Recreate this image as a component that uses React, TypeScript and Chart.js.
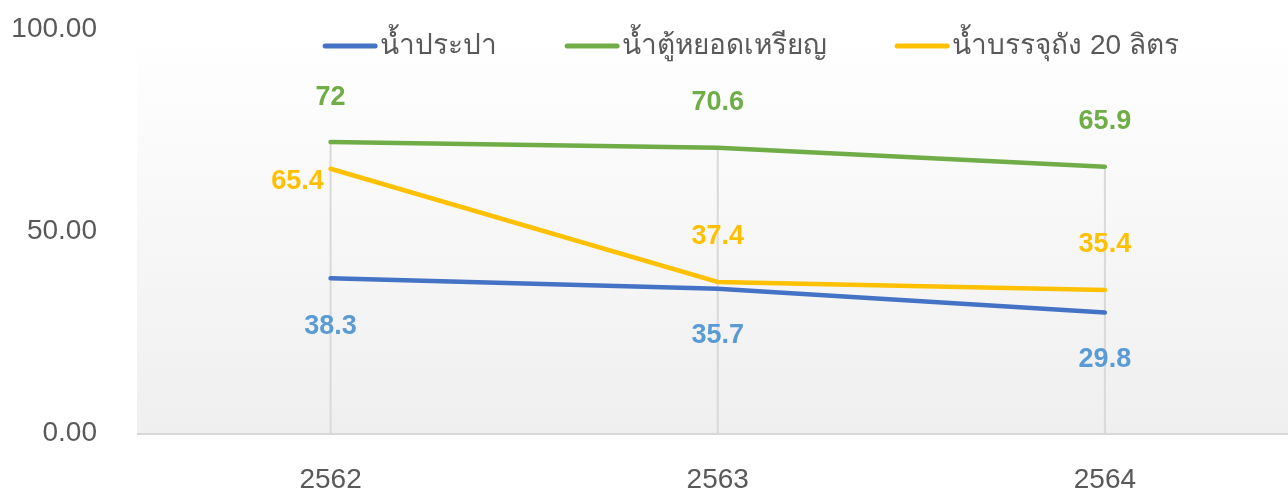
import React, { useEffect, useRef } from "react";
import { Chart, registerables } from "chart.js";

Chart.register(...registerables);

const years = ["2562", "2563", "2564"];
const seriesNames = ["น้ำประปา", "น้ำตู้หยอดเหรียญ", "น้ำบรรจุถัง 20 ลิตร"];
const tapWater = [38.3, 35.7, 29.8];
const vendingWater = [72, 70.6, 65.9];
const bottledWater = [65.4, 37.4, 35.4];
const yTicks = [0, 50, 100];

const lineColors = ["#4472C4", "#70AD47", "#FFC000"];
const labelColors = ["#5B9BD5", "#70AD47", "#FFC000"];
// label placement per dataset / point: [dx, dy] relative to point (text centre)
const labelOffsets = [
  [[0, 48], [0, 47], [0, 47]],
  [[0, -45], [0, -45], [0, -45]],
  [[-33, 13], [0, -45], [0, -45]],
];

const FONT = "'Liberation Sans', Arial, 'Noto Sans', sans-serif";

const plugin = {
  id: "custom",
  beforeDraw(chart: any) {
    const { ctx, chartArea } = chart;
    const g = ctx.createLinearGradient(0, chartArea.top, 0, chartArea.bottom);
    g.addColorStop(0, "#ffffff");
    g.addColorStop(1, "#efefef");
    ctx.save();
    ctx.fillStyle = g;
    ctx.fillRect(chartArea.left, chartArea.top, chartArea.right - chartArea.left, chartArea.bottom - chartArea.top);
    ctx.restore();
  },
  beforeDatasetsDraw(chart: any) {
    const { ctx, chartArea } = chart;
    const xs = chart.scales.x;
    const ys = chart.scales.y;
    ctx.save();
    ctx.strokeStyle = "#d9d9d9";
    ctx.lineWidth = 2;
    years.forEach((_, i) => {
      const maxV = Math.max(tapWater[i], vendingWater[i], bottledWater[i]);
      const x = xs.getPixelForValue(i);
      ctx.beginPath();
      ctx.moveTo(x, ys.getPixelForValue(maxV));
      ctx.lineTo(x, chartArea.bottom);
      ctx.stroke();
    });
    // x axis line
    ctx.beginPath();
    ctx.moveTo(chartArea.left, chartArea.bottom + 1);
    ctx.lineTo(chartArea.right, chartArea.bottom + 1);
    ctx.stroke();
    ctx.restore();
  },
  afterDatasetsDraw(chart: any) {
    const { ctx } = chart;
    ctx.save();
    ctx.font = `bold 27px ${FONT}`;
    ctx.textAlign = "center";
    ctx.textBaseline = "middle";
    chart.data.datasets.forEach((ds: any, di: number) => {
      const meta = chart.getDatasetMeta(di);
      meta.data.forEach((pt: any, i: number) => {
        const [dx, dy] = labelOffsets[di][i];
        ctx.fillStyle = labelColors[di];
        ctx.fillText(String(ds.data[i].y), pt.x + dx, pt.y + dy);
      });
    });
    // legend
    ctx.font = `28px ${FONT}`;
    ctx.textAlign = "left";
    const lineW = 54;
    const gapText = 3;
    const gapItem = 68;
    const widths = seriesNames.map((n) => lineW + gapText + ctx.measureText(n).width);
    const total = widths.reduce((a, b) => a + b, 0) + gapItem * (seriesNames.length - 1);
    let x = 751 - total / 2;
    const y = 46;
    seriesNames.forEach((n, i) => {
      ctx.strokeStyle = lineColors[i];
      ctx.lineWidth = 5;
      ctx.lineCap = "round";
      ctx.beginPath();
      ctx.moveTo(x + 2, y);
      ctx.lineTo(x + lineW - 2, y);
      ctx.stroke();
      ctx.fillStyle = "#595959";
      ctx.fillText(n, x + lineW + gapText, y);
      x += widths[i] + gapItem;
    });
    ctx.restore();
  },
};

export default function App() {
  const ref = useRef<HTMLCanvasElement>(null);
  useEffect(() => {
    document.body.style.margin = "0";
    document.body.style.overflow = "hidden";
    const toPts = (arr: number[]) => arr.map((v, i) => ({ x: i, y: v }));
    const allSeries = [tapWater, vendingWater, bottledWater];
    const chart = new Chart(ref.current!, {
      type: "line",
      data: {
        datasets: allSeries.map((s, i) => ({
          label: seriesNames[i],
          data: toPts(s),
          borderColor: lineColors[i],
          backgroundColor: lineColors[i],
          borderWidth: 4.5,
          pointRadius: 0,
          tension: 0,
          borderCapStyle: "round" as const,
        })),
      },
      options: {
        animation: false,
        responsive: false,
        maintainAspectRatio: false,
        layout: { padding: { top: 29, right: 0, left: 0, bottom: 0 } },
        plugins: { legend: { display: false }, tooltip: { enabled: false } },
        scales: {
          x: {
            type: "linear",
            min: -0.5,
            max: 2.473,
            grid: { display: false, drawTicks: false },
            border: { display: false },
            ticks: {
              stepSize: 1,
              includeBounds: false,
              autoSkip: false,
              maxRotation: 0,
              padding: 30,
              color: "#595959",
              font: { size: 28, family: FONT },
              callback: (v: any) => (Number.isInteger(v) && years[v] !== undefined ? years[v] : ""),
            },
            afterFit: (s: any) => {
              s.height = 63;
            },
          },
          y: {
            min: 0,
            max: 100,
            afterBuildTicks: (s: any) => {
              s.ticks = yTicks.map((v) => ({ value: v }));
            },
            grid: { display: false, drawTicks: false },
            border: { display: false },
            ticks: {
              padding: 40,
              color: "#595959",
              font: { size: 28, family: FONT },
              callback: (v: any) => Number(v).toFixed(2),
            },
            afterFit: (s: any) => {
              s.width = 137;
              s.paddingTop = 0;
              s.paddingBottom = 0;
            },
          },
        },
      },
      plugins: [plugin],
    });
    return () => chart.destroy();
  }, []);
  return <canvas ref={ref} width={1288} height={496} style={{ display: "block" }} />;
}
